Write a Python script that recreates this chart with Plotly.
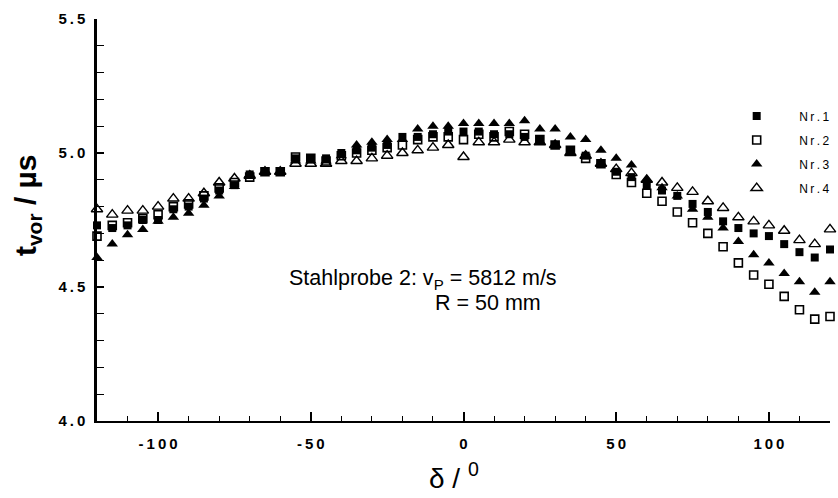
import plotly.graph_objects as go

# ---- data ----
angle = list(range(-120, 121, 5))

nr1 = [4.73, 4.72, 4.73, 4.75, 4.75, 4.79, 4.80, 4.83, 4.86, 4.88, 4.92, 4.93, 4.93,
       4.98, 4.98, 4.98, 5.00, 5.01, 5.02, 5.03, 5.06, 5.06, 5.07, 5.08, 5.08, 5.08,
       5.07, 5.07, 5.06, 5.05, 5.03, 5.01, 4.99, 4.96, 4.93, 4.91, 4.88, 4.86, 4.84,
       4.81, 4.78, 4.745, 4.72, 4.70, 4.69, 4.66, 4.63, 4.61, 4.64]

nr2 = [4.69, 4.73, 4.74, 4.755, 4.77, 4.80, 4.81, 4.84, 4.87, 4.89, 4.91, 4.93, 4.93,
       4.985, 4.98, 4.97, 4.99, 5.00, 5.01, 5.02, 5.03, 5.05, 5.06, 5.06, 5.05, 5.07,
       5.06, 5.08, 5.07, 5.05, 5.03, 5.01, 4.98, 4.96, 4.92, 4.89, 4.85, 4.82, 4.78,
       4.74, 4.70, 4.65, 4.59, 4.545, 4.51, 4.465, 4.415, 4.38, 4.39]

nr3 = [4.61, 4.66, 4.695, 4.715, 4.745, 4.76, 4.775, 4.805, 4.84, 4.875, 4.92, 4.93, 4.93,
       4.97, 4.97, 4.97, 4.99, 5.03, 5.04, 5.05, 5.05, 5.09, 5.10, 5.10, 5.11, 5.11,
       5.11, 5.11, 5.12, 5.09, 5.09, 5.06, 5.05, 5.01, 4.98, 4.955, 4.90, 4.87, 4.84,
       4.79, 4.76, 4.72, 4.67, 4.62, 4.59, 4.55, 4.52, 4.48, 4.52]

nr4 = [4.79, 4.77, 4.785, 4.785, 4.80, 4.83, 4.83, 4.85, 4.89, 4.905, 4.915, 4.93, 4.93,
       4.96, 4.96, 4.96, 4.97, 4.97, 4.98, 4.99, 5.00, 5.01, 5.02, 5.03, 4.985, 5.04,
       5.04, 5.05, 5.04, 5.04, 5.03, 5.00, 4.99, 4.96, 4.94, 4.925, 4.90, 4.89, 4.87,
       4.855, 4.82, 4.795, 4.76, 4.745, 4.73, 4.71, 4.675, 4.66, 4.715]

series_names = ["Nr.1", "Nr.2", "Nr.3", "Nr.4"]
x_tick_vals = [-100, -50, 0, 50, 100]
y_tick_vals = [4.0, 4.5, 5.0, 5.5]

# ---- styling ----
FONT = "Arial, 'Liberation Sans', sans-serif"
THIN = "\u2009"


def spaced(s):
    return THIN.join(list(s))


styles = [
    dict(symbol="square", size=8, color="black", line=dict(width=0, color="black")),
    dict(symbol="square-open", size=8, color="black", line=dict(width=1.6, color="black")),
    dict(symbol="triangle-up", size=10, color="black", line=dict(width=0, color="black")),
    dict(symbol="triangle-up-open", size=10, color="black", line=dict(width=1.4, color="black")),
]

fig = go.Figure()
for name, ys, st in zip(series_names, [nr1, nr2, nr3, nr4], styles):
    fig.add_trace(go.Scatter(
        x=angle, y=ys, mode="markers", name=spaced(name), legendgroup=name,
        marker=st, cliponaxis=False,
    ))

fig.update_layout(
    width=838, height=498,
    margin=dict(l=97, r=8, t=19, b=77, autoexpand=False),
    paper_bgcolor="white", plot_bgcolor="white",
    font=dict(family=FONT, color="black"),
    showlegend=True,
    legend=dict(
        x=0.842, y=0.669, xanchor="left", yanchor="middle",
        bgcolor="rgba(0,0,0,0)", borderwidth=0,
        font=dict(size=12, family=FONT, color="black"),
        itemwidth=75, tracegroupgap=5,
    ),
    xaxis=dict(
        range=[-120, 120], showgrid=False, zeroline=False,
        showline=True, linecolor="black", linewidth=2,
        ticks="inside", ticklen=9, tickwidth=1.5, tickcolor="black",
        tickvals=x_tick_vals, ticktext=[spaced(f"{v:d}") for v in x_tick_vals],
        tickfont=dict(size=15, family=FONT, color="black", weight="bold"),
        ticklabelstandoff=8,
        minor=dict(dtick=10, tick0=0, ticks="inside", ticklen=5, tickwidth=1.2, tickcolor="black"),
    ),
    yaxis=dict(
        range=[4.0, 5.5], showgrid=False, zeroline=False,
        showline=True, linecolor="black", linewidth=2.5,
        ticks="inside", ticklen=7, tickwidth=1.5, tickcolor="black",
        tickvals=y_tick_vals, ticktext=[spaced(f"{v:.1f}") for v in y_tick_vals],
        tickfont=dict(size=15, family=FONT, color="black", weight="bold"),
        ticklabelstandoff=6,
        minor=dict(dtick=0.1, tick0=4.0, ticks="inside", ticklen=7, tickwidth=1.2, tickcolor="black"),
    ),
    annotations=[
        dict(text="<b>t<sub>vor</sub> / µs</b>", xref="paper", yref="paper",
             x=-0.0955, y=0.537, xanchor="center", yanchor="middle", textangle=-90,
             showarrow=False, font=dict(size=30, family=FONT, color="black")),
        dict(text="δ / <sup>0</sup>", xref="paper", yref="paper",
             x=0.487, y=-0.137, xanchor="center", yanchor="middle",
             showarrow=False, font=dict(size=28, family=FONT, color="black")),
        dict(text="Stahlprobe 2: v<sub>P</sub> = 5812 m/s", xref="paper", yref="paper",
             x=0.259, y=0.353, xanchor="left", yanchor="middle",
             showarrow=False, font=dict(size=21.5, family=FONT, color="black")),
        dict(text="R = 50 mm", xref="paper", yref="paper",
             x=0.458, y=0.293, xanchor="left", yanchor="middle",
             showarrow=False, font=dict(size=21.5, family=FONT, color="black")),
    ],
)

fig.write_html("out.html")
